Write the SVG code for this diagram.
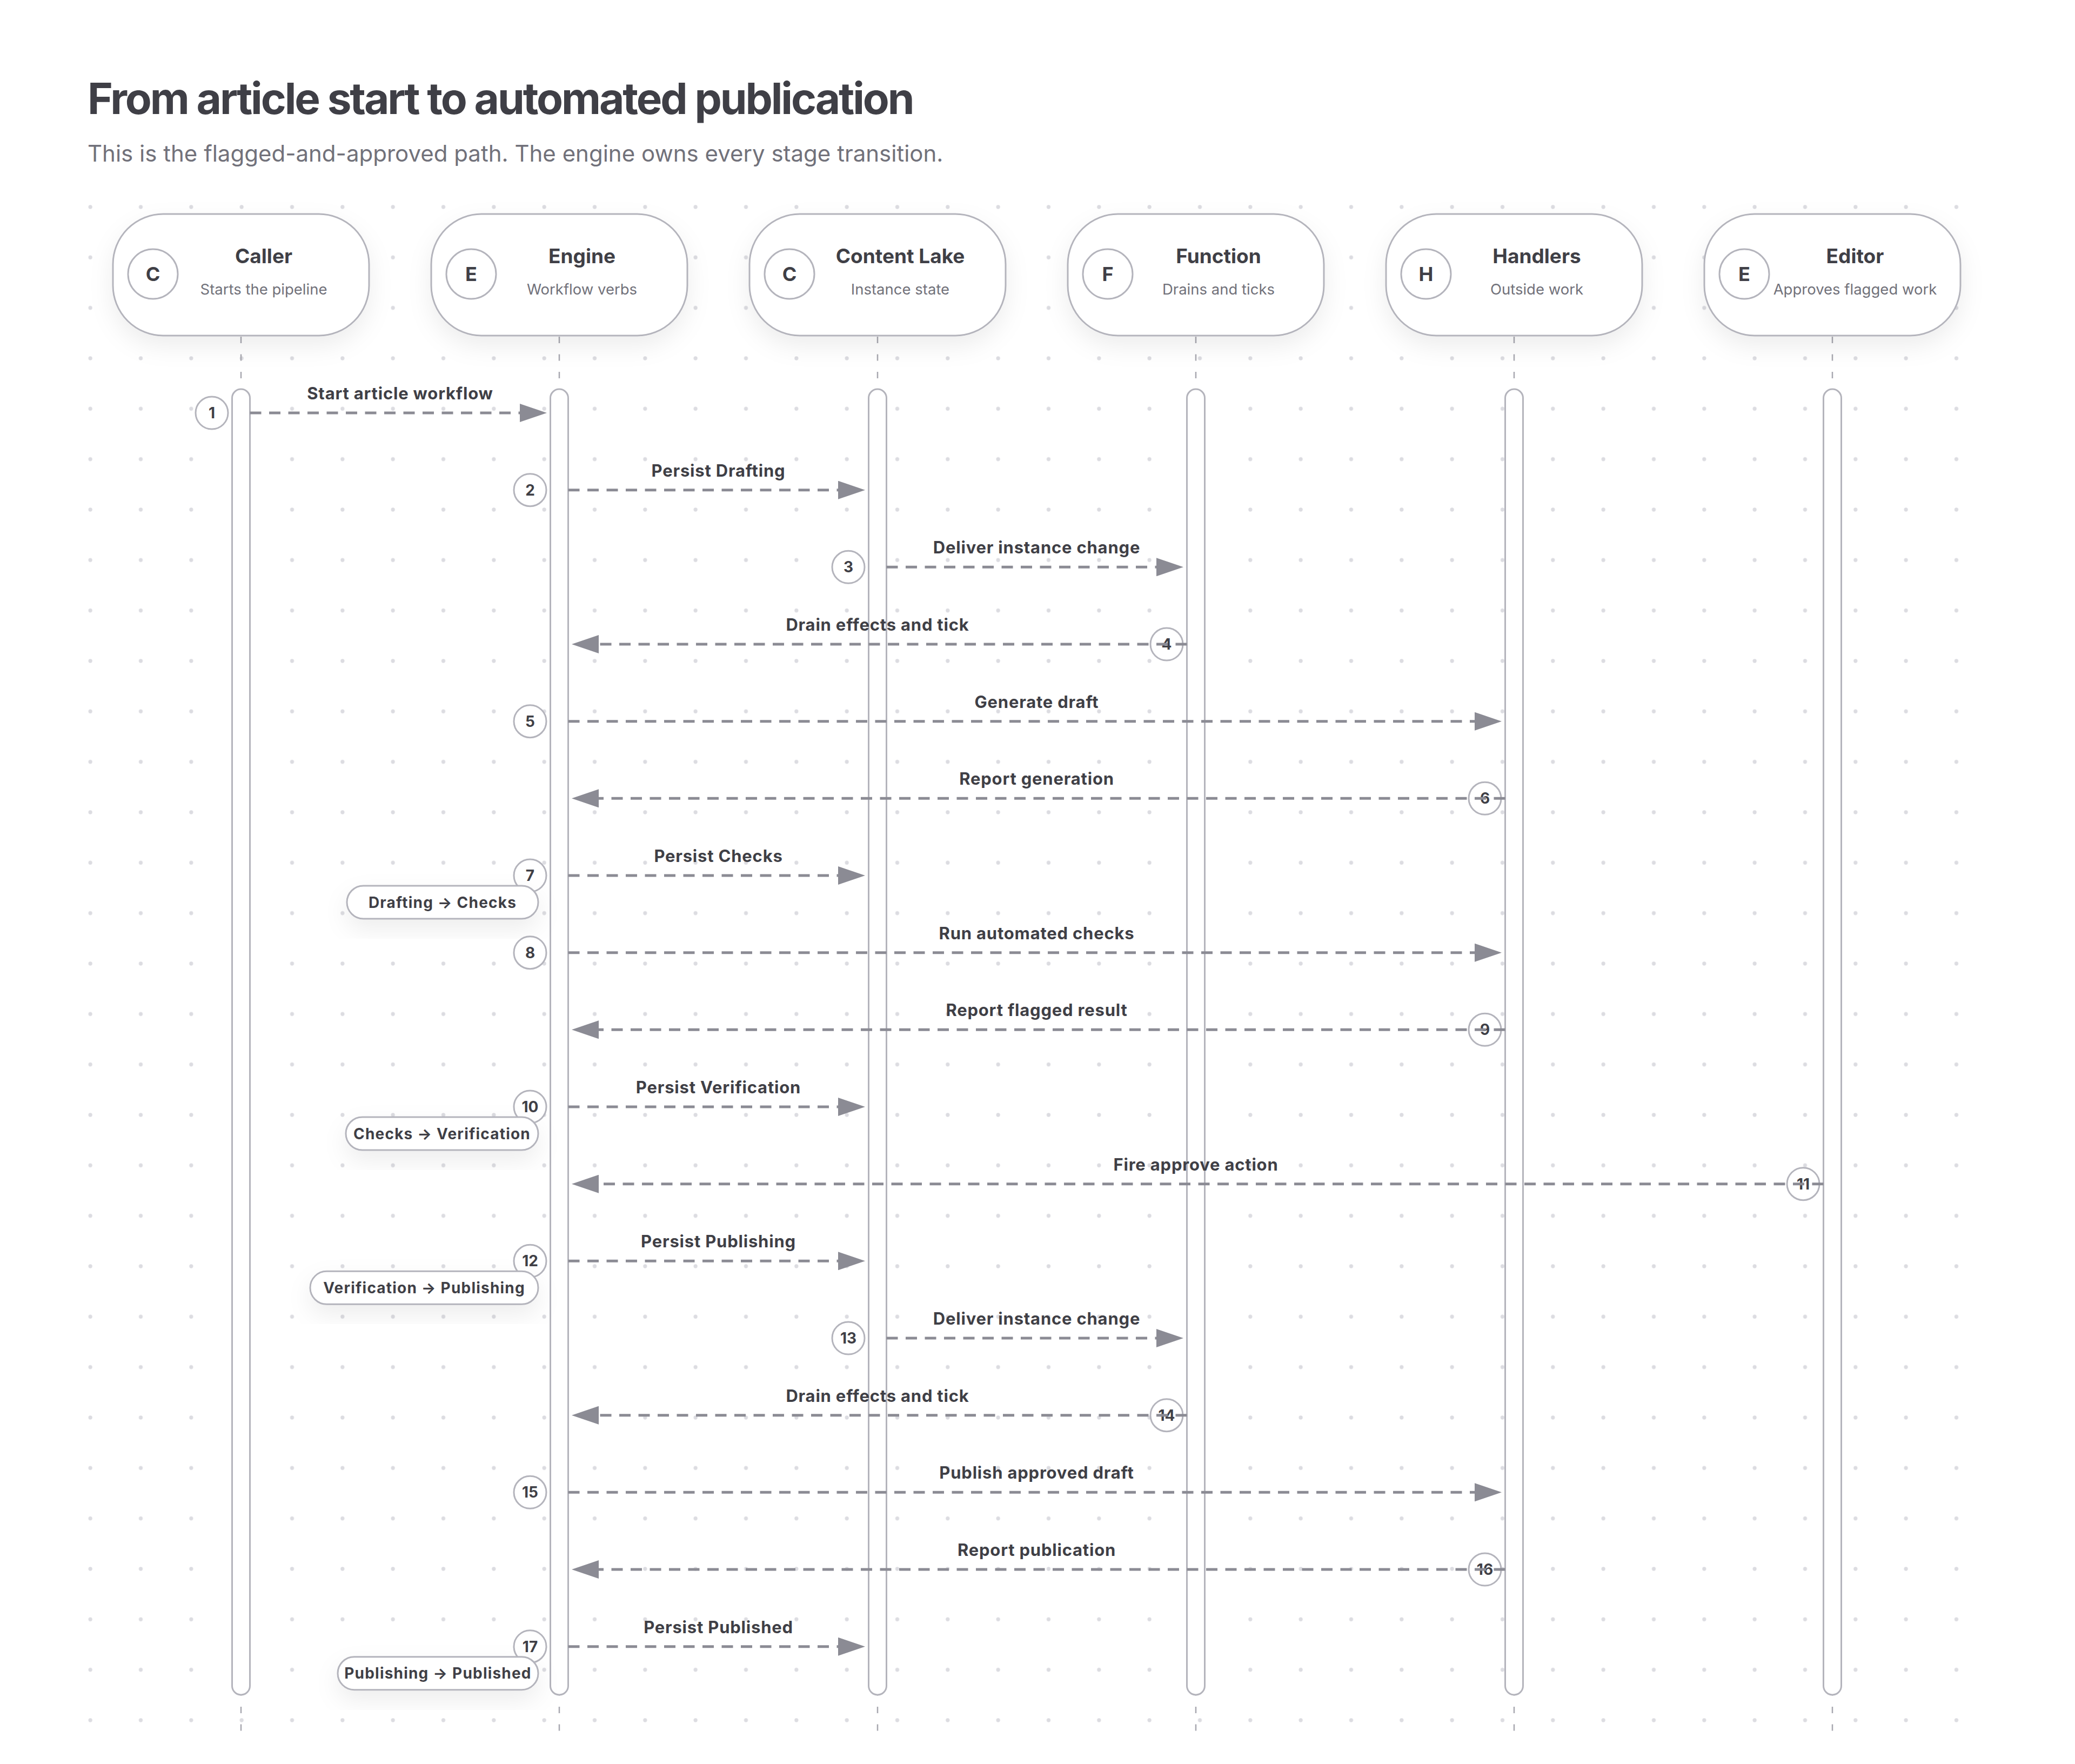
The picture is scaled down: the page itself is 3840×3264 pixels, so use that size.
<svg xmlns="http://www.w3.org/2000/svg" width="3840" height="3264" viewBox="0 0 3840 3264">
<defs>
<style>
text{font-family:Inter,"Liberation Sans",Arial,sans-serif}
.ttl{font-size:80px;font-weight:700;fill:#3f3f46;letter-spacing:-3.1px}
.sub{font-size:42px;font-weight:400;fill:#71717a}
.pill{fill:#fff;stroke:#b4b4bc;stroke-width:3}
.ico{fill:#fff;stroke:#b4b4bc;stroke-width:3}
.nt{font-size:37px;font-weight:700;fill:#3f3f46;text-anchor:middle}
.ns{font-size:27.5px;font-weight:400;fill:#71717a;text-anchor:middle}
.il{font-size:36px;font-weight:700;fill:#3f3f46;text-anchor:middle}
.life{stroke:#a8a8b0;stroke-width:2.5;stroke-dasharray:12 20.5;fill:none}
.bar{fill:#fff;stroke:#b4b4bc;stroke-width:3}
.msg{stroke:#8b8b94;stroke-width:5;stroke-dasharray:21 14.5;fill:none;marker-end:url(#ah)}
.lbl{font-size:31px;font-weight:700;fill:#3f3f46;text-anchor:middle;letter-spacing:0.8px}
.bd{fill:#fff;stroke:#b4b4bc;stroke-width:3}
.num{font-size:28px;font-weight:700;fill:#3f3f46;text-anchor:middle}
.stp{fill:#fff;stroke:#b4b4bc;stroke-width:3}
.stt{font-size:28px;font-weight:700;fill:#3f3f46;text-anchor:middle;letter-spacing:1.2px}
</style>
<pattern id="dots" patternUnits="userSpaceOnUse" x="120.5" y="336.3" width="93.333" height="93.333">
<circle cx="46.667" cy="46.667" r="3.6" fill="#dcdce1"/>
</pattern>
<filter id="sh" x="-30%" y="-40%" width="160%" height="200%">
<feDropShadow dx="0" dy="18" stdDeviation="22" flood-color="#000" flood-opacity="0.07"/>
</filter>
<marker id="ah" markerUnits="userSpaceOnUse" markerWidth="50" markerHeight="34" refX="0" refY="17" orient="auto" viewBox="0 0 50 34">
<path d="M0,0 L50,17 L0,34 z" fill="#8b8b94"/>
</marker>
</defs>
<rect width="3840" height="3264" fill="#fff"/>
<rect x="120.5" y="336.3" width="3546.7" height="2893.3" fill="url(#dots)"/>

<text class="ttl" x="162" y="211">From article start to automated publication</text>
<text class="sub" x="162" y="299">This is the flagged-and-approved path. The engine owns every stage transition.</text>

<g id="lifelines">
<line class="life" x1="446" y1="623" x2="446" y2="3206"/>
<line class="life" x1="1035" y1="623" x2="1035" y2="3206"/>
<line class="life" x1="1624" y1="623" x2="1624" y2="3206"/>
<line class="life" x1="2213" y1="623" x2="2213" y2="3206"/>
<line class="life" x1="2802" y1="623" x2="2802" y2="3206"/>
<line class="life" x1="3391" y1="623" x2="3391" y2="3206"/>
<rect class="bar" x="429.5" y="720" width="33" height="2416" rx="16.5"/>
<rect class="bar" x="1018.5" y="720" width="33" height="2416" rx="16.5"/>
<rect class="bar" x="1607.5" y="720" width="33" height="2416" rx="16.5"/>
<rect class="bar" x="2196.5" y="720" width="33" height="2416" rx="16.5"/>
<rect class="bar" x="2785.5" y="720" width="33" height="2416" rx="16.5"/>
<rect class="bar" x="3374.5" y="720" width="33" height="2416" rx="16.5"/>
</g>

<g id="caller">
<rect class="pill" filter="url(#sh)" x="209" y="396" width="474" height="225" rx="93"/>
<circle class="ico" cx="283" cy="507" r="46"/>
<text class="il" x="283" y="520">C</text>
<text class="nt" x="488" y="487">Caller</text>
<text class="ns" x="488" y="545">Starts the pipeline</text>
</g>
<g id="engine">
<rect class="pill" filter="url(#sh)" x="798" y="396" width="474" height="225" rx="93"/>
<circle class="ico" cx="872" cy="507" r="46"/>
<text class="il" x="872" y="520">E</text>
<text class="nt" x="1077" y="487">Engine</text>
<text class="ns" x="1077" y="545">Workflow verbs</text>
</g>
<g id="content-lake">
<rect class="pill" filter="url(#sh)" x="1387" y="396" width="474" height="225" rx="93"/>
<circle class="ico" cx="1461" cy="507" r="46"/>
<text class="il" x="1461" y="520">C</text>
<text class="nt" x="1666" y="487">Content Lake</text>
<text class="ns" x="1666" y="545">Instance state</text>
</g>
<g id="function">
<rect class="pill" filter="url(#sh)" x="1976" y="396" width="474" height="225" rx="93"/>
<circle class="ico" cx="2050" cy="507" r="46"/>
<text class="il" x="2050" y="520">F</text>
<text class="nt" x="2255" y="487">Function</text>
<text class="ns" x="2255" y="545">Drains and ticks</text>
</g>
<g id="handlers">
<rect class="pill" filter="url(#sh)" x="2565" y="396" width="474" height="225" rx="93"/>
<circle class="ico" cx="2639" cy="507" r="46"/>
<text class="il" x="2639" y="520">H</text>
<text class="nt" x="2844" y="487">Handlers</text>
<text class="ns" x="2844" y="545">Outside work</text>
</g>
<g id="editor">
<rect class="pill" filter="url(#sh)" x="3154" y="396" width="474" height="225" rx="93"/>
<circle class="ico" cx="3228" cy="507" r="46"/>
<text class="il" x="3228" y="520">E</text>
<text class="nt" x="3433" y="487">Editor</text>
<text class="ns" x="3433" y="545">Approves flagged work</text>
</g>

<g id="steps">
<circle class="bd" cx="392" cy="764" r="30"/><text class="num" x="392" y="774">1</text>
<circle class="bd" cx="981" cy="906.7" r="30"/><text class="num" x="981" y="916.7">2</text>
<circle class="bd" cx="1570" cy="1049.3" r="30"/><text class="num" x="1570" y="1059.3">3</text>
<circle class="bd" cx="2159" cy="1192" r="30"/><text class="num" x="2159" y="1202">4</text>
<circle class="bd" cx="981" cy="1334.7" r="30"/><text class="num" x="981" y="1344.7">5</text>
<circle class="bd" cx="2748" cy="1477.3" r="30"/><text class="num" x="2748" y="1487.3">6</text>
<circle class="bd" cx="981" cy="1620" r="30"/><text class="num" x="981" y="1630">7</text>
<circle class="bd" cx="981" cy="1762.7" r="30"/><text class="num" x="981" y="1772.7">8</text>
<circle class="bd" cx="2748" cy="1905.3" r="30"/><text class="num" x="2748" y="1915.3">9</text>
<circle class="bd" cx="981" cy="2048" r="30"/><text class="num" x="981" y="2058">10</text>
<circle class="bd" cx="3337" cy="2190.7" r="30"/><text class="num" x="3337" y="2200.7">11</text>
<circle class="bd" cx="981" cy="2333.3" r="30"/><text class="num" x="981" y="2343.3">12</text>
<circle class="bd" cx="1570" cy="2476" r="30"/><text class="num" x="1570" y="2486">13</text>
<circle class="bd" cx="2159" cy="2618.7" r="30"/><text class="num" x="2159" y="2628.7">14</text>
<circle class="bd" cx="981" cy="2761.3" r="30"/><text class="num" x="981" y="2771.3">15</text>
<circle class="bd" cx="2748" cy="2904" r="30"/><text class="num" x="2748" y="2914">16</text>
<circle class="bd" cx="981" cy="3046.7" r="30"/><text class="num" x="981" y="3056.7">17</text>
</g>

<g id="stage-drafting-checks">
<rect class="stp" filter="url(#sh)" x="642" y="1639" width="354" height="61" rx="30.5"/>
<text class="stt" x="819" y="1679.5">Drafting → Checks</text>
</g>
<g id="stage-checks-verification">
<rect class="stp" filter="url(#sh)" x="640" y="2067" width="356" height="61" rx="30.5"/>
<text class="stt" x="818" y="2107.5">Checks → Verification</text>
</g>
<g id="stage-verification-publishing">
<rect class="stp" filter="url(#sh)" x="574" y="2352.3" width="422" height="61" rx="30.5"/>
<text class="stt" x="785" y="2392.8">Verification → Publishing</text>
</g>
<g id="stage-publishing-published">
<rect class="stp" filter="url(#sh)" x="625" y="3065.7" width="371" height="61" rx="30.5"/>
<text class="stt" x="810.5" y="3106.2">Publishing → Published</text>
</g>

<g id="connectors">
<path class="msg" d="M462.5,764 H962"/>
<path class="msg" d="M1051.5,906.7 H1551"/>
<path class="msg" d="M1640.5,1049.3 H2140"/>
<path class="msg" d="M2196.5,1192 H1108"/>
<path class="msg" d="M1051.5,1334.7 H2729"/>
<path class="msg" d="M2785.5,1477.3 H1108"/>
<path class="msg" d="M1051.5,1620 H1551"/>
<path class="msg" d="M1051.5,1762.7 H2729"/>
<path class="msg" d="M2785.5,1905.3 H1108"/>
<path class="msg" d="M1051.5,2048 H1551"/>
<path class="msg" d="M3374.5,2190.7 H1108"/>
<path class="msg" d="M1051.5,2333.3 H1551"/>
<path class="msg" d="M1640.5,2476 H2140"/>
<path class="msg" d="M2196.5,2618.7 H1108"/>
<path class="msg" d="M1051.5,2761.3 H2729"/>
<path class="msg" d="M2785.5,2904 H1108"/>
<path class="msg" d="M1051.5,3046.7 H1551"/>
<text class="lbl" x="740.5" y="739">Start article workflow</text>
<text class="lbl" x="1329.5" y="881.7">Persist Drafting</text>
<text class="lbl" x="1918.5" y="1024.3">Deliver instance change</text>
<text class="lbl" x="1624" y="1167">Drain effects and tick</text>
<text class="lbl" x="1918.5" y="1309.7">Generate draft</text>
<text class="lbl" x="1918.5" y="1452.3">Report generation</text>
<text class="lbl" x="1329.5" y="1595">Persist Checks</text>
<text class="lbl" x="1918.5" y="1737.7">Run automated checks</text>
<text class="lbl" x="1918.5" y="1880.3">Report flagged result</text>
<text class="lbl" x="1329.5" y="2023">Persist Verification</text>
<text class="lbl" x="2213" y="2165.7">Fire approve action</text>
<text class="lbl" x="1329.5" y="2308.3">Persist Publishing</text>
<text class="lbl" x="1918.5" y="2451">Deliver instance change</text>
<text class="lbl" x="1624" y="2593.7">Drain effects and tick</text>
<text class="lbl" x="1918.5" y="2736.3">Publish approved draft</text>
<text class="lbl" x="1918.5" y="2879">Report publication</text>
<text class="lbl" x="1329.5" y="3021.7">Persist Published</text>
</g>
</svg>
